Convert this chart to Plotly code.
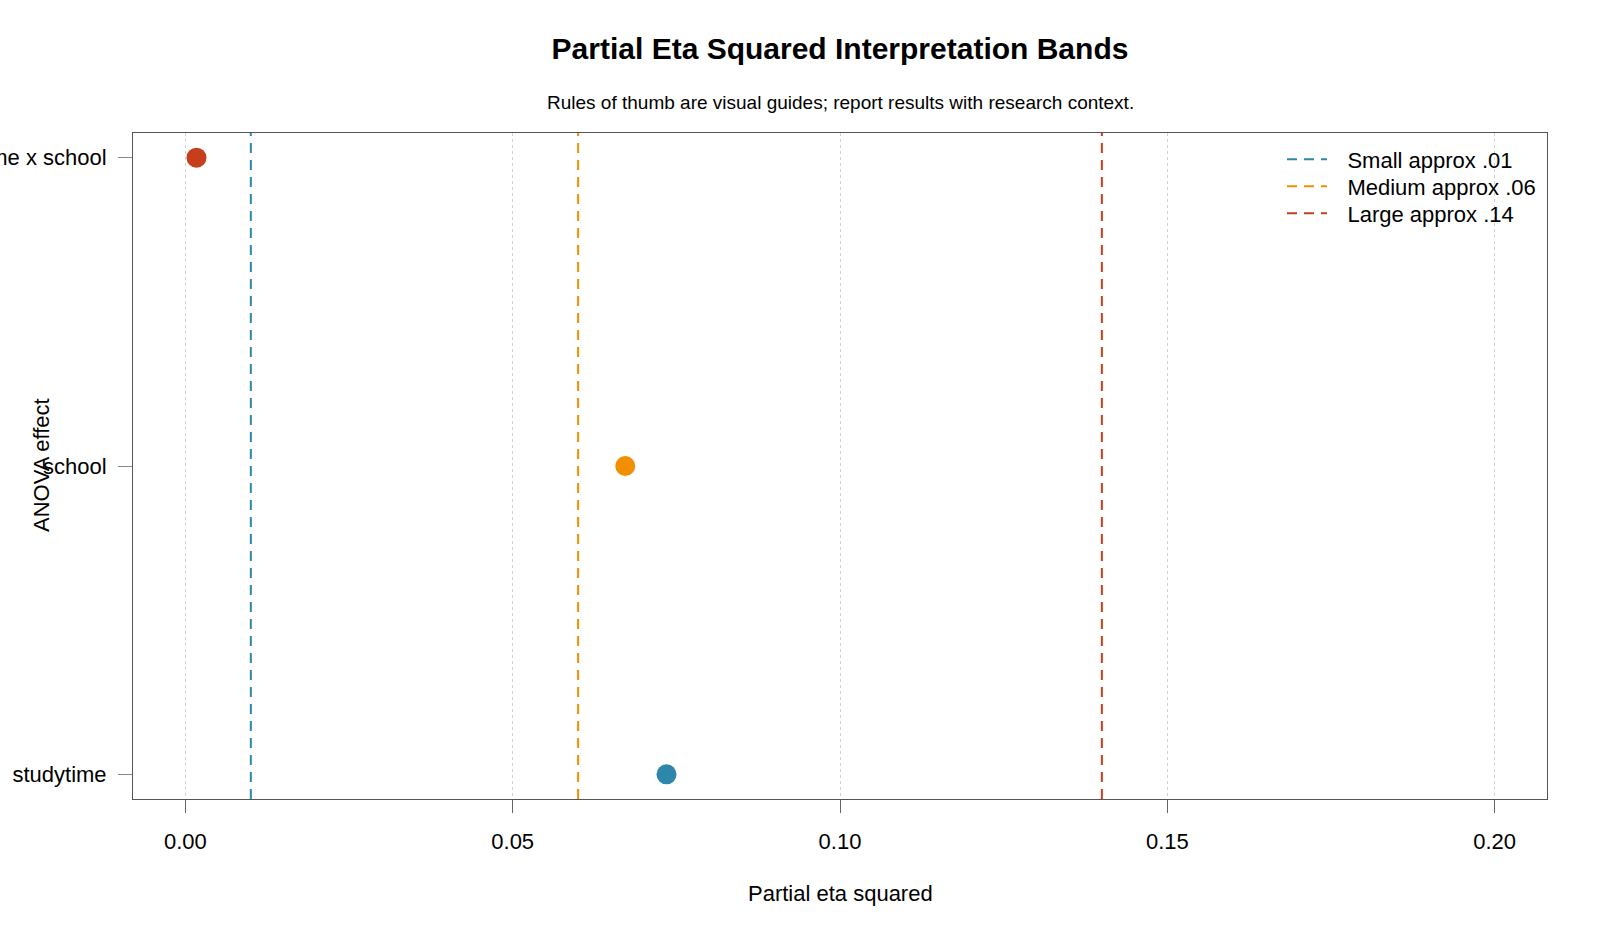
import plotly.graph_objects as go

effects = ["studytime", "school", "studytime x school"]
eta_sq = [0.0735, 0.0672, 0.0017]
point_colors = ["#2E86AB", "#F18F01", "#C73E1D"]

band_names = ["Small approx .01", "Medium approx .06", "Large approx .14"]
band_values = [0.01, 0.06, 0.14]
band_colors = ["#2E86AB", "#F18F01", "#C73E1D"]

x_ticks = [0.00, 0.05, 0.10, 0.15, 0.20]
x_tick_labels = ["0.00", "0.05", "0.10", "0.15", "0.20"]

FONT = "Liberation Sans, Arial, sans-serif"
ypos = list(range(1, len(effects) + 1))

# plot-area geometry in pixels
PL, PR, PT, PB = 133, 1547, 133, 799
PW, PH = PR - PL, PB - PT

fig = go.Figure()

legend_ids = ["legend", "legend2", "legend3"]
legend_rows_px = [159.5, 186.5, 213.5]

for name, val, col, lid in zip(band_names, band_values, band_colors, legend_ids):
    fig.add_trace(go.Scatter(
        x=[val, val], y=[0.92, 3.08], mode="lines", name="\u2002\u2009" + name,
        line=dict(color=col, width=2, dash="10px,7px"),
        hoverinfo="skip", legend=lid,
    ))

fig.add_trace(go.Scatter(
    x=eta_sq, y=ypos, mode="markers", showlegend=False,
    marker=dict(size=20, color=point_colors, line=dict(width=0)),
    text=effects,
))

legend_common = dict(xanchor="left", yanchor="middle",
                     bgcolor="rgba(0,0,0,0)", borderwidth=0,
                     font=dict(family=FONT, size=22, color="black"),
                     itemwidth=40)
legend_layout = {}
for lid, ypx in zip(legend_ids, legend_rows_px):
    legend_layout[lid] = dict(x=(1282 - PL) / PW, y=(PB - ypx) / PH, **legend_common)

fig.update_layout(
    width=1600, height=933,
    margin=dict(l=PL, r=1600 - PR, t=PT, b=933 - PB),
    paper_bgcolor="white", plot_bgcolor="white",
    font=dict(family=FONT, size=22, color="black"),
    title=dict(text="<b>Partial Eta Squared Interpretation Bands</b>",
               x=0.5, xref="paper", xanchor="center",
               y=1 - 48 / 933, yref="container", yanchor="middle",
               font=dict(family=FONT, size=30, color="black")),
    xaxis=dict(range=[-0.008, 0.208], tickvals=x_ticks, ticktext=x_tick_labels,
               showgrid=True, gridcolor="#d3d3d3", griddash="dot", gridwidth=1,
               zeroline=False, showline=True, linecolor="#555555", linewidth=1,
               mirror=True, ticks="outside", ticklen=13, tickcolor="#666666",
               ticklabelstandoff=10, tickfont=dict(size=22)),
    yaxis=dict(range=[0.92, 3.08], tickvals=ypos, ticktext=effects,
               showgrid=False, zeroline=False, showline=True,
               linecolor="#555555", linewidth=1, mirror=True,
               ticks="outside", ticklen=14, tickcolor="#888888",
               ticklabelstandoff=7, automargin=False, tickfont=dict(size=22)),
    annotations=[
        dict(text="Rules of thumb are visual guides; report results with research context.",
             xref="paper", yref="paper", x=0.5, y=1 + (PT - 102) / PH,
             xanchor="center", yanchor="middle", showarrow=False,
             font=dict(family=FONT, size=19, color="black")),
        dict(text="Partial eta squared", xref="paper", yref="paper",
             x=0.5, y=-(893 - PB) / PH, xanchor="center", yanchor="middle",
             showarrow=False, font=dict(family=FONT, size=22, color="black")),
        dict(text="ANOVA effect", xref="paper", yref="paper",
             x=(41 - PL) / PW, y=(PB - 465) / PH, textangle=-90,
             xanchor="center", yanchor="middle", showarrow=False,
             font=dict(family=FONT, size=22, color="black")),
    ],
    **legend_layout,
)

fig.write_html("out.html")
